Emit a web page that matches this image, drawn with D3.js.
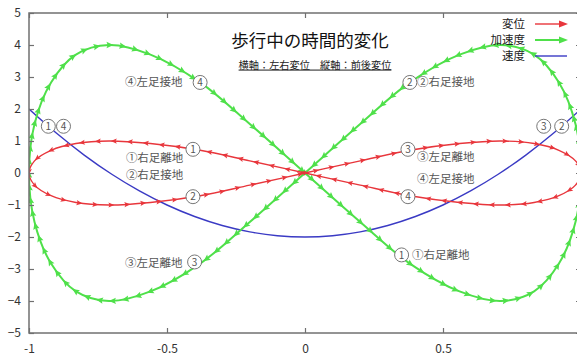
<!DOCTYPE html>
<html>
<head>
<meta charset="utf-8">
<script src="https://cdn.jsdelivr.net/npm/d3@7"></script>
<style>
  html, body { margin: 0; padding: 0; background: #fff; }
  svg { display: block; }
  text { font-family: "Noto Sans CJK JP", "Noto Sans", sans-serif; }
</style>
</head>
<body>
<svg id="chart" width="577" height="355"></svg>
<script>
// 変位 (displacement), in travel order
const dispX = [1.00, 0.98, 0.92, 0.83, 0.71, 0.56, 0.38, 0.20, 0.00, -0.20, -0.38, -0.56, -0.71, -0.83, -0.92, -0.98,
               -1.00, -0.98, -0.92, -0.83, -0.71, -0.56, -0.38, -0.20, 0.00, 0.20, 0.38, 0.56, 0.71, 0.83, 0.92, 0.98];
const dispY = [0.00, -0.38, -0.71, -0.92, -1.00, -0.92, -0.71, -0.38, 0.00, 0.38, 0.71, 0.92, 1.00, 0.92, 0.71, 0.38,
               0.00, -0.38, -0.71, -0.92, -1.00, -0.92, -0.71, -0.38, 0.00, 0.38, 0.71, 0.92, 1.00, 0.92, 0.71, 0.38];
// 加速度 (acceleration), in travel order
const accX = [1.00, 0.98, 0.92, 0.83, 0.71, 0.56, 0.38, 0.20, 0.00, -0.20, -0.38, -0.56, -0.71, -0.83, -0.92, -0.98,
              -1.00, -0.98, -0.92, -0.83, -0.71, -0.56, -0.38, -0.20, 0.00, 0.20, 0.38, 0.56, 0.71, 0.83, 0.92, 0.98];
const accY = [0.00, 1.53, 2.83, 3.70, 4.00, 3.70, 2.83, 1.53, 0.00, -1.53, -2.83, -3.70, -4.00, -3.70, -2.83, -1.53,
              0.00, 1.53, 2.83, 3.70, 4.00, 3.70, 2.83, 1.53, 0.00, -1.53, -2.83, -3.70, -4.00, -3.70, -2.83, -1.53];
// 速度 (velocity)
const velX = [-1.0, -0.9, -0.8, -0.7, -0.6, -0.5, -0.4, -0.3, -0.2, -0.1, 0.0, 0.1, 0.2, 0.3, 0.4, 0.5, 0.6, 0.7, 0.8, 0.9, 1.0];
const velY = [2.00, 1.24, 0.56, -0.04, -0.56, -1.00, -1.36, -1.64, -1.84, -1.96, -2.00, -1.96, -1.84, -1.64, -1.36, -1.00, -0.56, -0.04, 0.56, 1.24, 2.00];

const xTicks = [-1, -0.5, 0, 0.5, 1];
const xTickLabels = ["-1", "-0.5", "0", "0.5", ""];
const yTicks = [-5, -4, -3, -2, -1, 0, 1, 2, 3, 4, 5];

const seriesNames = ["変位", "加速度", "速度"];
const titleText = "歩行中の時間的変化";
const subtitleText = "横軸：左右変位　縦軸：前後変位";

// circled phase markers: number, x, y
const markNum = ["①", "②", "③", "④", "④", "②", "③", "①", "①", "④", "③", "②"];
const markX = [-0.406, -0.406, 0.373, 0.373, -0.38, 0.38, -0.40, 0.35, -0.93, -0.875, 0.865, 0.93];
const markY = [0.74, -0.74, 0.74, -0.74, 2.83, 2.83, -2.78, -2.56, 1.46, 1.46, 1.46, 1.46];

// phase captions: text, x, y (left anchor)
const noteText = ["④左足接地", "②右足接地", "③左足離地", "①右足離地", "①右足離地", "②右足接地", "③左足離地", "④左足接地"];
const noteX = [-0.652, 0.406, -0.652, 0.388, -0.649, -0.649, 0.406, 0.406];
const noteY = [2.83, 2.83, -2.80, -2.56, 0.47, -0.06, 0.50, -0.19];

const RED = "#e8363c", GREEN = "#4fe04a", BLUE = "#3a3ac4", AXIS = "#707070";

const svg = d3.select("#chart");
const x = d3.scaleLinear().domain([-1, 1]).range([29, 581]);
const y = d3.scaleLinear().domain([-5, 5]).range([333, 13]);

const pts = (xs, ys) => xs.map((v, i) => [v, ys[i]]);
const dispPts = pts(dispX, dispY);
const accPts = pts(accX, accY);
const velPts = pts(velX, velY);

const closedLine = d3.line().x(d => x(d[0])).y(d => y(d[1])).curve(d3.curveCatmullRomClosed.alpha(0.5));
const openLine = d3.line().x(d => x(d[0])).y(d => y(d[1])).curve(d3.curveCatmullRom.alpha(0.5));

svg.append("defs").append("clipPath").attr("id", "plot")
  .append("rect").attr("x", 29).attr("y", 13).attr("width", 552).attr("height", 320);

const plot = svg.append("g").attr("clip-path", "url(#plot)");

// arrowheads laid along a path in its travel direction
function arrowsAlong(pathNode, step, offset, len, half, color, g) {
  const total = pathNode.getTotalLength();
  for (let L = offset; L < total - 1; L += step) {
    const p = pathNode.getPointAtLength(L);
    const q = pathNode.getPointAtLength(Math.min(total, L + 0.8));
    const a = Math.atan2(q.y - p.y, q.x - p.x) * 180 / Math.PI;
    g.append("path")
      .attr("d", `M${len / 2},0 L${-len / 2},${-half} L${-len / 2 + 1.2},0 L${-len / 2},${half} Z`)
      .attr("transform", `translate(${p.x},${p.y}) rotate(${a})`)
      .attr("fill", color);
  }
}

// 速度
plot.append("path").attr("d", openLine(velPts))
  .attr("fill", "none").attr("stroke", BLUE).attr("stroke-width", 1.4);

// 加速度
const accPath = plot.append("path").attr("d", closedLine(accPts))
  .attr("fill", "none").attr("stroke", GREEN).attr("stroke-width", 2);
arrowsAlong(accPath.node(), 13, 6, 7, 3.2, GREEN, plot);

// 変位
const dispPath = plot.append("path").attr("d", closedLine(dispPts))
  .attr("fill", "none").attr("stroke", RED).attr("stroke-width", 1.4);
arrowsAlong(dispPath.node(), 16, 8, 6, 2.6, RED, plot);

// frame and ticks (inward, mirrored)
const frame = svg.append("g");
frame.append("rect").attr("x", 29).attr("y", 13).attr("width", 552).attr("height", 320)
  .attr("fill", "none").attr("stroke", AXIS).attr("stroke-width", 1.5);

const ax = svg.append("g").attr("transform", "translate(0,333)")
  .call(d3.axisBottom(x).tickValues(xTicks).tickFormat((d, i) => xTickLabels[i]).tickSize(-5).tickPadding(9));
const axTop = svg.append("g").attr("transform", "translate(0,13)")
  .call(d3.axisTop(x).tickValues(xTicks).tickFormat("").tickSize(-5));
const ay = svg.append("g").attr("transform", "translate(29,0)")
  .call(d3.axisLeft(y).tickValues(yTicks).tickFormat(d3.format("d")).tickSize(-5).tickPadding(8));
const ayR = svg.append("g").attr("transform", "translate(581,0)")
  .call(d3.axisRight(y).tickValues(yTicks).tickFormat("").tickSize(-5));
[ax, axTop, ay, ayR].forEach(g => {
  g.select(".domain").remove();
  g.selectAll(".tick line").attr("stroke", AXIS).attr("stroke-width", 1.2);
  g.selectAll(".tick text").attr("fill", "#333").attr("font-size", 12)
    .attr("font-family", "'Liberation Sans', Arial, sans-serif");
});
ax.selectAll(".tick text").attr("dy", "0.9em");

// captions
const notes = svg.append("g");
noteText.forEach((t, i) => {
  notes.append("text").attr("x", x(noteX[i])).attr("y", y(noteY[i]))
    .attr("dy", "0.35em").attr("font-size", 11.5).attr("fill", "#555").text(t);
});

// circled markers
const marks = svg.append("g");
markNum.forEach((n, i) => {
  const cx = x(markX[i]), cy = y(markY[i]);
  marks.append("circle").attr("cx", cx).attr("cy", cy).attr("r", 7)
    .attr("fill", "#fff").attr("stroke", "#777").attr("stroke-width", 1);
  marks.append("text").attr("x", cx).attr("y", cy).attr("dy", "0.36em")
    .attr("text-anchor", "middle").attr("font-size", 10).attr("fill", "#555")
    .attr("font-family", "'Liberation Sans', Arial, sans-serif")
    .text("①②③④".indexOf(n) + 1);
});

// title
svg.append("text").attr("x", 310).attr("y", 41).attr("dy", "0.35em")
  .attr("text-anchor", "middle").attr("font-size", 17.5).attr("fill", "#111").text(titleText);
svg.append("text").attr("x", 315).attr("y", 65).attr("dy", "0.35em")
  .attr("text-anchor", "middle").attr("font-size", 10.2).attr("fill", "#222")
  .attr("text-decoration", "underline").text(subtitleText);

// legend
const legY = [24, 40, 56];
const legColor = [RED, GREEN, BLUE];
const leg = svg.append("g");
seriesNames.forEach((s, i) => {
  leg.append("text").attr("x", 525).attr("y", legY[i]).attr("dy", "0.35em")
    .attr("text-anchor", "end").attr("font-size", 11.5).attr("fill", "#222").text(s);
  leg.append("line").attr("x1", 535).attr("x2", i < 2 ? 562 : 567)
    .attr("y1", legY[i]).attr("y2", legY[i])
    .attr("stroke", legColor[i]).attr("stroke-width", i === 1 ? 2 : 1.4);
  if (i < 2) {
    leg.append("path")
      .attr("d", `M568,${legY[i]} L559,${legY[i] - 3.5} L559,${legY[i] + 3.5} Z`)
      .attr("fill", legColor[i]);
  }
});
</script>
</body>
</html>
